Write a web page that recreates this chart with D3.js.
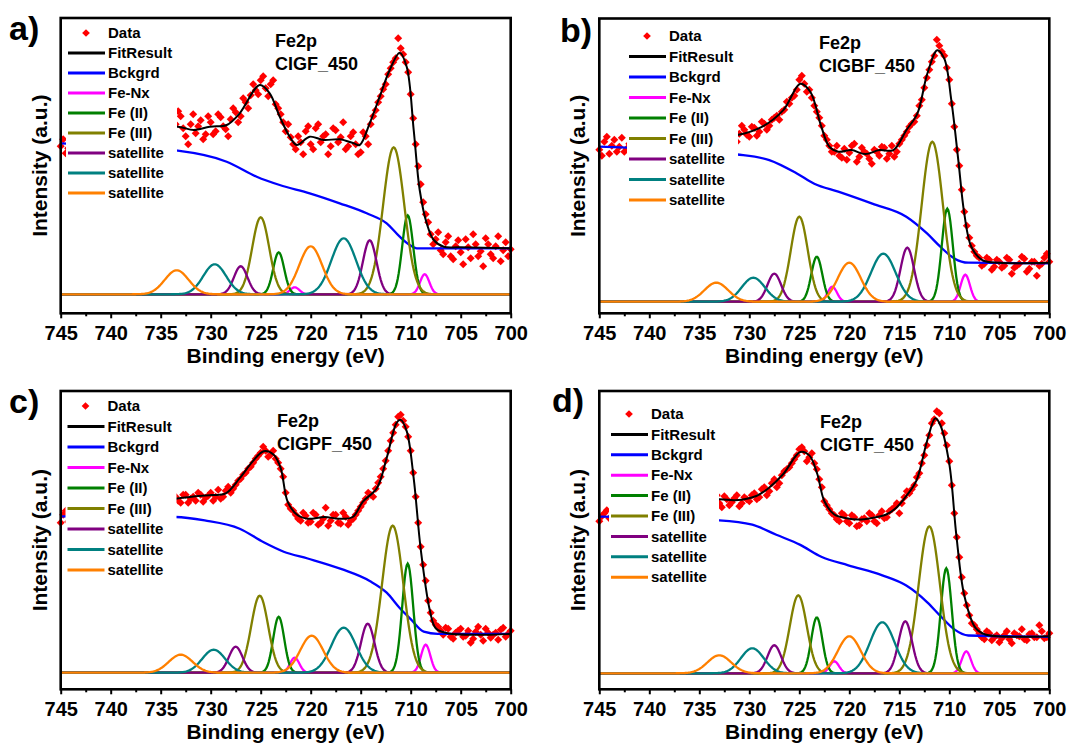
<!DOCTYPE html>
<html>
<head>
<meta charset="utf-8">
<script src="https://cdn.jsdelivr.net/npm/d3@7"></script>
<style>
body { margin: 0; background: #fff; }
svg text { font-family: "Liberation Sans", Arial, sans-serif; font-weight: bold; fill: #000; }
</style>
</head>
<body>
<svg id="chart" width="1067" height="745"></svg>
<script>
// binding energy grids of the measured points (eV)
var energy = d3.range(745, 699.75, -0.5);
var energyMid = d3.range(744.75, 700, -0.5);

var dataA = [148,141,152,155,150,158,153,160,156,162,
             158,163,160,166,161,168,163,170,166,172,
             167,175,165,170,178,158,170,161,174,160,
             172,163,177,165,175,182,178,192,199,204,
             214,206,210,190,180,163,157,145,152,163,
             150,166,152,160,148,164,157,145,158,150,
             142,158,170,184,198,210,226,236,246,232,
             200,150,110,80,60,55,44,52,38,48,
             42,55,36,50,43,56,40,48,33,52,
             45];
var dataAmid = [155,146,160,148,162,152,165,150,158,166,
                155,168,160,170,158,172,164,175,162,170,
                160,176,152,183,166,150,180,168,155,178,
                160,180,168,158,186,172,196,186,210,200,
                218,198,214,186,172,170,150,158,140,168,
                145,170,158,140,166,152,172,148,162,140,
                162,150,178,192,205,220,232,256,240,222,
                176,128,92,72,50,62,40,58,35,54,
                30,47,60,38,28,50,36,58,44,38];
var dataB = [152,160,148,162,155,150,158,156,160,158,
             162,159,163,161,164,162,165,163,166,164,
             167,165,168,166,169,167,171,163,168,172,
             165,174,170,178,176,184,182,192,198,206,
             222,218,212,196,184,166,156,150,146,153,
             149,158,145,150,143,152,146,154,148,145,
             158,166,175,180,196,214,232,246,256,246,
             222,175,136,90,64,50,44,38,42,35,
             40,36,42,34,38,43,33,40,36,44,
             40];
var dataBmid = [146,165,156,150,164,153,162,150,163,157,
                158,166,157,167,160,168,161,169,162,170,
                162,170,164,172,165,160,175,160,176,167,
                175,166,180,172,182,186,190,200,204,212,
                226,210,204,190,176,162,150,156,144,142,
                156,140,154,148,138,150,155,143,156,150,
                162,170,178,186,202,224,240,262,250,234,
                198,152,112,76,56,46,36,44,32,42,
                34,44,28,36,45,30,40,26,38,48];
var dataC = [150,162,156,160,158,162,160,164,162,165,
             163,166,165,168,167,169,168,171,170,172,
             171,173,172,176,170,178,174,172,178,175,
             180,176,174,182,180,188,194,200,206,214,
             220,222,218,214,204,180,164,158,152,157,
             151,158,150,165,152,158,149,156,152,158,
             166,174,178,184,196,212,232,248,258,246,
             222,176,126,92,60,48,42,45,36,40,
             44,37,30,41,38,44,35,40,43,36,
             42];
var dataCmid = [158,151,163,157,160,165,158,166,161,163,
                168,162,170,165,170,166,173,168,174,170,
                176,168,177,172,178,170,176,180,171,177,
                172,183,176,186,184,192,198,204,210,217,
                226,216,222,210,196,168,162,154,160,150,
                160,148,154,147,158,150,160,148,154,162,
                170,180,176,190,204,222,240,256,252,236,
                200,150,108,72,52,46,38,44,34,42,
                36,42,34,46,32,40,38,33,45,39];
var dataD = [152,160,155,159,157,161,159,163,161,164,
             163,166,165,167,166,169,168,170,169,172,
             171,173,172,176,170,177,168,175,167,176,
             172,180,176,186,182,194,190,202,206,214,
             224,222,216,210,194,172,164,158,152,158,
             150,156,148,155,160,152,158,155,162,166,
             160,176,180,188,200,218,238,254,260,240,
             212,160,116,80,58,48,40,34,40,36,
             31,38,34,40,37,34,39,36,48,35,
             40];
var dataDmid = [157,163,153,162,158,164,160,166,162,160,
                167,162,169,164,171,166,172,168,174,170,
                168,176,170,178,166,174,171,178,170,174,
                178,174,184,178,190,186,198,204,210,218,
                226,212,220,204,186,168,160,154,160,152,
                158,147,154,152,158,150,162,156,164,170,
                170,182,184,196,210,228,250,262,250,228,
                188,136,96,68,50,44,36,42,33,38,
                35,42,30,38,44,33,40,36,42,36];

// fit envelope [eV, intensity]
var fitA = [[737,163],[735,165],[733.3,167.6],[731.7,164.3],[730.1,167.6],[728.4,169.3],[727.1,181],[725.1,209.3],[724.1,201],[723.1,177.6],[722.1,157.6],[721.4,149.3],[720.1,157.6],[718.7,154.3],[717.1,155],[715.7,151],[715.1,149.3],[714.1,171],[713.1,197.6],[712.1,224.3],[711.1,241.6],[710.4,227.6],[709.7,164.3],[709.1,104.3],[708.4,71],[707.7,54.3],[706.7,47.6],[705.1,47],[700,46]];
var fitB = [[737,164],[734,165],[731.2,166.6],[728.7,175],[726.6,191.5],[724.9,218],[723.9,210],[722.8,175],[722.0,155],[721.1,150],[719.8,151.6],[718.4,147.6],[717.0,151.6],[715.6,151.6],[714.3,171.5],[713.2,188],[712.2,228],[711.2,251.5],[710.5,243],[709.8,201.5],[709.1,141.6],[708.5,88],[707.8,55],[706.7,41.6],[705,39],[700,39]];
var fitC = [[737,170],[733.5,174],[731.9,176],[729.9,177.6],[728.5,179.3],[727.1,194.5],[725.8,211.3],[724.7,221.4],[723.7,218],[723.0,204.6],[722.3,170.9],[721.3,157.4],[720.3,154],[718.6,155.7],[717.2,154],[715.8,155.7],[714.8,170.9],[713.4,184.3],[712.4,214.7],[711.4,250],[711.0,252.8],[710.4,241.6],[709.7,194.4],[709.0,123.7],[708.1,63],[707.5,44.5],[706.3,39.4],[700,38.8]];
var fitD = [[737,170],[733.0,174],[731.4,173],[729.3,177.3],[728.0,185.8],[726.6,199.3],[724.9,221.3],[724.0,217.9],[723.2,199.3],[722.5,172.3],[721.5,158.8],[720.4,155.4],[719.1,153.7],[717.7,155.4],[716.3,158.8],[715.3,165.5],[714.3,177.3],[713.3,192.5],[712.2,233],[711.4,255],[710.9,248.3],[710.0,209.4],[709.3,138.5],[708.5,77.7],[707.4,45.6],[706.4,38.8],[700,37]];

// background [eV, intensity]
var bgA = [[745,151],[733.3,143.6],[728.4,132.6],[725.4,117.6],[723.1,109.3],[720.1,101],[717.1,91],[714.4,81],[712.4,71],[711.1,57.6],[710.1,49.3],[709.4,46],[700,46]];
var bgB = [[745,155],[742.2,154],[731.2,147.2],[728,141.6],[725.2,128],[723.5,118],[721.1,110],[717.7,98],[714.3,85],[712.2,68],[710.9,55],[709.5,43.3],[708.1,39],[700,38.3]];
var bgC = [[745,156.4],[733.5,155.7],[730.6,152.3],[727.1,144],[724.7,130.4],[722.7,121],[720.3,114.2],[716.9,103.5],[714.1,91.7],[712.4,80],[711.1,64.7],[710.0,53.6],[708.7,41],[707.3,38.8],[700,38.8]];
var bgD = [[745,156.7],[733.0,153],[729.7,148.6],[727.3,138.5],[724.9,128.4],[722.8,116.5],[720.1,108],[716.7,98],[714.3,87.8],[712.2,71],[710.9,57.4],[709.5,43.9],[708.1,37.8],[700,36.5]];

// fitted components: each has a 2p1/2 and a 2p3/2 peak
var compNames = ["Fe-Nx", "Fe (II)", "Fe (III)", "satellite", "satellite", "satellite"];
var compColors = ["#ff00ff", "#008000", "#808000", "#800080", "#008080", "#ff8000"];
var compFwhm = [[1.1,1.1],[1.3,1.3],[2.0,2.5],[1.6,1.6],[2.7,2.9],[2.8,2.7]];

var centersA = [[721.6,708.6],[723.2,710.3],[725.0,711.7],[727.0,714.1],[729.6,716.7],[733.4,720.0]];
var heightsA = [[7,20],[42,79],[77,147],[28,54],[30,56],[24,48]];
var centersB = [[721.7,708.4],[723.25,710.2],[725.0,711.7],[727.5,714.2],[729.6,716.6],[733.3,720.0]];
var heightsB = [[15,27],[45,93],[85,160],[28,54],[24,48],[19,39]];
var centersC = [[721.6,708.5],[723.2,710.3],[725.1,711.8],[727.5,714.3],[729.7,716.7],[733.0,719.9]];
var heightsC = [[15,28],[56,109],[77,147],[26,49],[23,45],[18,37]];
var centersD = [[721.5,708.3],[723.25,710.3],[725.1,712.0],[727.5,714.4],[729.7,716.7],[733.0,720.0]];
var heightsD = [[12,22],[56,105],[78,147],[28,52],[25,51],[18,37]];

var legendNames = ["Data", "FitResult", "Bckgrd"].concat(compNames);
var legendColors = ["#ff0000", "#000000", "#0000ff"].concat(compColors);
var majorTicks = d3.range(745, 699, -5);
var minorTicks = d3.range(742.5, 700, -5);

var panels = [
    {label: "a)", sample: "CIGF_450", left: 60.7, top: 18, bottom: 313.3, base: 294.3,
     data: dataA, mid: dataAmid, fit: fitA, bg: bgA, centers: centersA, heights: heightsA,
     legX: 68, legY: 33, legDy: 20, boxR: 177, noteX: 275, noteY: 46.5, labX: 9, labY: 40},
    {label: "b)", sample: "CIGBF_450", left: 599.3, top: 18.5, bottom: 313.3, base: 301.7,
     data: dataB, mid: dataBmid, fit: fitB, bg: bgB, centers: centersB, heights: heightsB,
     legX: 629, legY: 36, legDy: 20.5, boxR: 738, noteX: 819, noteY: 48.5, labX: 560, labY: 42},
    {label: "c)", sample: "CIGPF_450", left: 60.7, top: 391, bottom: 689.3, base: 672.7,
     data: dataC, mid: dataCmid, fit: fitC, bg: bgC, centers: centersC, heights: heightsC,
     legX: 67.5, legY: 406, legDy: 20.5, boxR: 176.5, noteX: 277, noteY: 426.5, labX: 9, labY: 413},
    {label: "d)", sample: "CIGTF_450", left: 599.3, top: 391, bottom: 689.3, base: 673.3,
     data: dataD, mid: dataDmid, fit: fitD, bg: bgD, centers: centersD, heights: heightsD,
     legX: 611, legY: 414, legDy: 20.4, boxR: 719, noteX: 820, noteY: 427.5, labX: 552, labY: 412}
];

var svg = d3.select("#chart");
var diamond = d3.symbol().type(d3.symbolSquare).size(32);
var diamondLeg = d3.symbol().type(d3.symbolSquare).size(30);
var fine = d3.range(745, 699.95, -0.1);

function gauss(e, c, h, w) {
    return h * Math.exp(-4 * Math.LN2 * (e - c) * (e - c) / (w * w));
}

panels.forEach(function(p) {
    var w = 450;
    var x = d3.scaleLinear().domain([745, 700]).range([p.left, p.left + w]);
    var y = d3.scaleLinear().domain([p.base - p.bottom, p.base - p.top]).range([p.bottom, p.top]);
    var g = svg.append("g");

    var smooth = d3.line()
        .x(function(d) { return x(d[0]); })
        .y(function(d) { return y(d[1]); })
        .curve(d3.curveCatmullRom.alpha(0.5));

    // measured points
    var pts = p.data.map(function(v, i) { return [energy[i], v]; })
        .concat(p.mid.map(function(v, i) { return [energyMid[i], v]; }));
    g.append("g").selectAll("path")
        .data(pts)
        .enter().append("path")
        .attr("d", diamond)
        .attr("transform", function(d) {
            return "translate(" + x(d[0]) + "," + y(d[1]) + ") rotate(45)"; })
        .style("fill", "#ff0000");

    // background
    g.append("path")
        .attr("d", smooth.curve(d3.curveMonotoneX)(p.bg))
        .style("fill", "none")
        .style("stroke", "#0000ff")
        .style("stroke-width", 2.3);
    smooth.curve(d3.curveCatmullRom.alpha(0.5));

    // components
    compColors.forEach(function(col, k) {
        var cpts = fine.map(function(e) {
            return [e, gauss(e, p.centers[k][0], p.heights[k][0], compFwhm[k][0]) +
                       gauss(e, p.centers[k][1], p.heights[k][1], compFwhm[k][1])];
        });
        g.append("path")
            .attr("d", d3.line().x(function(d) { return x(d[0]); }).y(function(d) { return y(d[1]); })(cpts))
            .style("fill", "none")
            .style("stroke", col)
            .style("stroke-width", 2.3);
    });

    // fit envelope
    g.append("path")
        .attr("d", smooth(p.fit))
        .style("fill", "none")
        .style("stroke", "#000")
        .style("stroke-width", 2);

    // legend (white box hides what is behind it)
    var nRows = legendNames.length;
    g.append("rect")
        .attr("x", p.legX - 2)
        .attr("y", p.top + 3)
        .attr("width", p.boxR - p.legX + 2)
        .attr("height", p.legY + p.legDy * (nRows - 1) + 11 - p.top - 3)
        .style("fill", "#fff");
    var leg = g.selectAll(".legend")
        .data(legendNames)
        .enter().append("g")
        .attr("class", "legend")
        .attr("transform", function(d, i) { return "translate(" + p.legX + "," + (p.legY + i * p.legDy) + ")"; });
    leg.each(function(d, i) {
        var row = d3.select(this);
        if (i == 0) {
            row.append("path").attr("d", diamondLeg)
                .attr("transform", "translate(18,0) rotate(45)")
                .style("fill", legendColors[i]);
        } else {
            row.append("line").attr("x1", 0).attr("x2", 37)
                .style("stroke", legendColors[i]).style("stroke-width", 3);
        }
    });
    leg.append("text")
        .attr("x", 40)
        .attr("dy", "0.35em")
        .style("font-size", "15px")
        .text(function(d) { return d; });

    // notes
    g.append("text").attr("x", p.noteX).attr("y", p.noteY).style("font-size", "18px").text("Fe2p");
    g.append("text").attr("x", p.noteX).attr("y", p.noteY + 23.5).style("font-size", "18px").text(p.sample);
    g.append("text").attr("x", p.labX).attr("y", p.labY).style("font-size", "34px").text(p.label);

    // axes
    var ax = g.append("g").attr("transform", "translate(0," + p.bottom + ")")
        .call(d3.axisBottom(x).tickValues(majorTicks).tickSize(5).tickPadding(8).tickFormat(d3.format("d")));
    ax.selectAll("text").style("font-size", "20px");
    g.append("g").attr("transform", "translate(0," + p.bottom + ")")
        .call(d3.axisBottom(x).tickValues(minorTicks).tickSize(3).tickFormat(""));
    g.selectAll(".domain").remove();
    g.selectAll(".tick line").style("stroke", "#000").style("stroke-width", 2);

    g.append("rect")
        .attr("x", p.left).attr("y", p.top)
        .attr("width", w).attr("height", p.bottom - p.top)
        .style("fill", "none")
        .style("stroke", "#000")
        .style("stroke-width", 2.6);

    g.append("text")
        .attr("x", p.left + w / 2)
        .attr("y", p.bottom + 50)
        .style("text-anchor", "middle")
        .style("font-size", "21px")
        .text("Binding energy (eV)");
    g.append("text")
        .attr("transform", "translate(" + (p.left - 21.5) + "," + ((p.top + p.bottom) / 2) + ") rotate(-90)")
        .attr("dy", "0.35em")
        .style("text-anchor", "middle")
        .style("font-size", "21px")
        .text("Intensity (a.u.)");
});
</script>
</body>
</html>
